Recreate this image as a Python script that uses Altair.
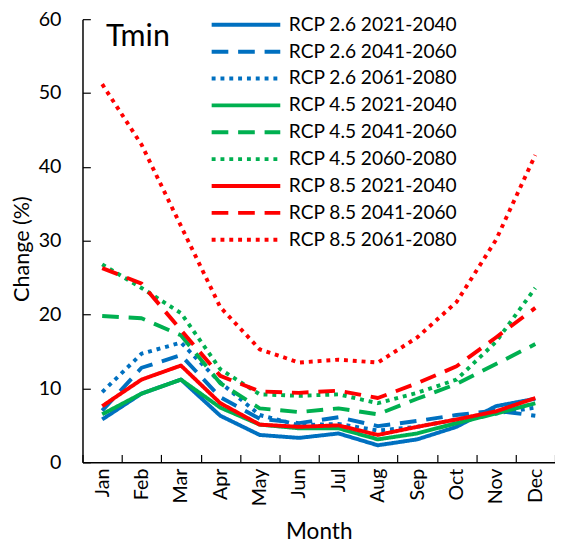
import altair as alt
import pandas as pd

months = ["Jan", "Feb", "Mar", "Apr", "May", "Jun", "Jul", "Aug", "Sep", "Oct", "Nov", "Dec"]

series_names = [
    "RCP 2.6 2021-2040", "RCP 2.6 2041-2060", "RCP 2.6 2061-2080",
    "RCP 4.5 2021-2040", "RCP 4.5 2041-2060", "RCP 4.5 2060-2080",
    "RCP 8.5 2021-2040", "RCP 8.5 2041-2060", "RCP 8.5 2061-2080",
]

rcp26_2021 = [5.8, 9.3, 11.2, 6.3, 3.7, 3.3, 3.9, 2.3, 3.1, 4.8, 7.6, 8.6]
rcp26_2041 = [7.0, 12.8, 14.5, 8.8, 5.9, 5.3, 6.1, 4.9, 5.6, 6.4, 7.0, 6.3]
rcp26_2061 = [9.5, 14.7, 16.2, 10.8, 6.4, 5.0, 5.2, 4.3, 4.8, 5.8, 6.6, 7.4]
rcp45_2021 = [6.5, 9.3, 11.2, 7.4, 5.1, 4.6, 4.6, 3.1, 3.9, 5.3, 6.6, 8.0]
rcp45_2041 = [19.8, 19.5, 17.2, 10.7, 7.3, 6.8, 7.3, 6.5, 8.6, 10.6, 13.3, 16.0]
rcp45_2060 = [26.8, 23.6, 20.2, 12.6, 9.2, 9.0, 9.2, 8.0, 9.4, 11.2, 16.3, 23.6]
rcp85_2021 = [7.6, 11.2, 13.1, 8.0, 5.1, 4.8, 5.0, 3.7, 4.8, 5.8, 6.9, 8.7]
rcp85_2041 = [26.3, 24.2, 17.9, 11.7, 9.6, 9.4, 9.7, 8.7, 10.7, 13.0, 16.9, 20.9]
rcp85_2061 = [51.2, 43.0, 32.0, 21.0, 15.3, 13.5, 13.9, 13.5, 16.9, 21.7, 30.1, 41.6]

all_values = [rcp26_2021, rcp26_2041, rcp26_2061,
              rcp45_2021, rcp45_2041, rcp45_2060,
              rcp85_2021, rcp85_2041, rcp85_2061]

series_colors = ["#0070C0"] * 3 + ["#00B050"] * 3 + ["#FF0000"] * 3
solid, dashed, dotted = [1, 0], [17, 10], [4, 5]
series_dashes = [solid, dashed, dotted] * 3

rows = []
for name, vals in zip(series_names, all_values):
    for m, v in zip(months, vals):
        rows.append({"Month": m, "series": name, "value": v})
df = pd.DataFrame(rows)

FONT = "Lato"

legend_kw = dict(title=None, orient="none", legendX=157, legendY=-4,
                 symbolType="M-5,0H5", symbolSize=196, symbolStrokeWidth=4,
                 rowPadding=6.4, labelFontSize=19.5, labelFont=FONT,
                 labelColor="black", labelOffset=34, padding=0, labelLimit=300)

lines = alt.Chart(df).mark_line(strokeWidth=4, strokeJoin="round").encode(
    x=alt.X("Month:N", sort=months,
            scale=alt.Scale(paddingInner=0, paddingOuter=0),
            axis=alt.Axis(title="Month", labelAngle=-90, tickBand="extent",
                          labelFontSize=20, titleFontSize=23, titleFontWeight="normal",
                          labelPadding=14, titleX=241, titleY=71, titleBaseline="middle",
                          tickSize={"expr": "-8"}, tickColor="black", tickWidth=1.2,
                          domainColor="black", domainWidth=1.5,
                          labelColor="black", titleColor="black",
                          labelFont=FONT, titleFont=FONT)),
    y=alt.Y("value:Q", scale=alt.Scale(domain=[0, 60]),
            axis=alt.Axis(title="Change (%)", values=[0, 10, 20, 30, 40, 50, 60],
                          grid=False, labelFontSize=20, titleFontSize=22,
                          titleFontWeight="normal", labelPadding=30,
                          titleX=-62, titleY=234, titleBaseline="middle",
                          tickSize={"expr": "-8"}, tickColor="black", tickWidth=1.2,
                          domainColor="black", domainWidth=1.5,
                          labelColor="black", titleColor="black",
                          labelFont=FONT, titleFont=FONT)),
    color=alt.Color("series:N", scale=alt.Scale(domain=series_names, range=series_colors),
                    legend=alt.Legend(**legend_kw)),
    strokeDash=alt.StrokeDash("series:N", scale=alt.Scale(domain=series_names, range=series_dashes),
                              legend=alt.Legend(**legend_kw)),
    order=alt.Order("series:N"),
)

label_df = pd.DataFrame({"label": ["Tmin"]})
title_text = alt.Chart(label_df).mark_text(
    font=FONT, fontSize=31, align="left", baseline="middle", color="black"
).encode(x=alt.value(24), y=alt.value(18), text="label:N")

chart = alt.layer(lines, title_text).properties(
    width=482, height=452,
    autosize=alt.AutoSizeParams(type="none"),
    padding={"left": 76, "top": 6, "right": 0, "bottom": 80},
).configure_view(stroke=None)

chart.save("out.html", embed_options={"renderer": "svg", "actions": False})
